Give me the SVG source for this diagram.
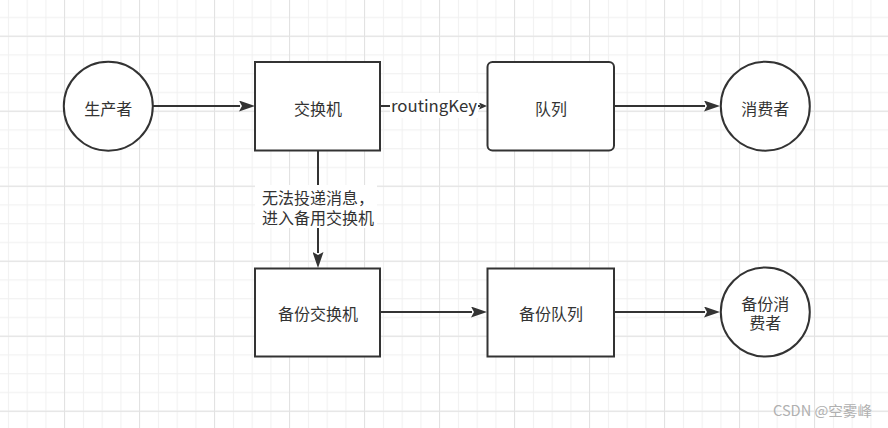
<svg xmlns="http://www.w3.org/2000/svg" width="888" height="428" viewBox="0 0 888 428">
  <defs>
    <pattern id="gridMinor" x="0" y="0" width="18.75" height="18.75" patternUnits="userSpaceOnUse">
      <path d="M8.5 0 V18.75 M0 17.5 H18.75" fill="none" stroke="#f0f0f0" stroke-width="1"/>
    </pattern>
    <pattern id="gridMajor" x="0" y="0" width="75" height="75" patternUnits="userSpaceOnUse">
      <path d="M64.5 0 V75 M0 36.25 H75" fill="none" stroke="#e2e2e2" stroke-width="1"/>
    </pattern>
    <marker id="arrow" viewBox="0 0 16 11" refX="1" refY="5.5" markerWidth="16" markerHeight="11" markerUnits="userSpaceOnUse" orient="auto">
      <path d="M0 0 L16 5.5 L0 11 L3 5.5 Z" fill="#333333"/>
    </marker>
    <marker id="arrowSmall" viewBox="0 0 8 7" refX="1" refY="3.5" markerWidth="8" markerHeight="7" markerUnits="userSpaceOnUse" orient="auto">
      <path d="M0 0 L8 3.5 L0 7 L1.5 3.5 Z" fill="#333333"/>
    </marker>
  </defs>
  <style>
    .shape { fill: #ffffff; stroke: #333333; stroke-width: 2; }
    .edge { fill: none; stroke: #333333; stroke-width: 2; }
    .lbl { font-family: "Microsoft YaHei", "Noto Sans CJK SC", "Noto Sans", sans-serif; font-size: 16px; fill: #333333; text-anchor: middle; }
    .lblbg { fill: #ffffff; }
    .wm { font-family: "Noto Sans CJK SC", "Noto Sans", sans-serif; font-size: 14px; fill: #b0b0b0; }
  </style>

  <rect x="0" y="0" width="888" height="428" fill="#ffffff"/>
  <rect x="0" y="0" width="888" height="428" fill="url(#gridMinor)"/>
  <rect x="0" y="0" width="888" height="428" fill="url(#gridMajor)"/>

  <g id="connectors">
    <line class="edge" x1="153" y1="106" x2="240" y2="106" marker-end="url(#arrow)"/>
    <line class="edge" x1="380" y1="106" x2="480" y2="106" marker-end="url(#arrowSmall)"/>
    <line class="edge" x1="614" y1="106" x2="705" y2="106" marker-end="url(#arrow)"/>
    <line class="edge" x1="318" y1="151" x2="318" y2="253" marker-end="url(#arrow)"/>
    <line class="edge" x1="380" y1="312" x2="472" y2="312" marker-end="url(#arrow)"/>
    <line class="edge" x1="614" y1="312" x2="705" y2="312" marker-end="url(#arrow)"/>
    <g id="label-routingKey">
      <rect class="lblbg" x="390" y="93" width="88" height="25"/>
      <text class="lbl" x="434" y="112" textLength="86" lengthAdjust="spacingAndGlyphs">routingKey</text>
    </g>
    <g id="label-fallback">
      <rect class="lblbg" x="255" y="185" width="122" height="43"/>
      <text class="lbl" x="318" y="203.5">无法投递消息，</text>
      <text class="lbl" x="318" y="223.5">进入备用交换机</text>
    </g>
  </g>

  <g id="producer">
    <circle class="shape" cx="108.3" cy="106.2" r="44.5"/>
    <text class="lbl" x="108.3" y="114.5">生产者</text>
  </g>
  <g id="exchange">
    <rect class="shape" x="255" y="62" width="125" height="88.5"/>
    <text class="lbl" x="318" y="114.5">交换机</text>
  </g>
  <g id="queue">
    <rect class="shape" x="487.5" y="62" width="126.5" height="88.5" rx="5" ry="5"/>
    <text class="lbl" x="551" y="114.5">队列</text>
  </g>
  <g id="consumer">
    <circle class="shape" cx="765.3" cy="106.2" r="44.5"/>
    <text class="lbl" x="765.3" y="114.5">消费者</text>
  </g>
  <g id="backup-exchange">
    <rect class="shape" x="255" y="268.5" width="125" height="88"/>
    <text class="lbl" x="318" y="320">备份交换机</text>
  </g>
  <g id="backup-queue">
    <rect class="shape" x="487.5" y="268.5" width="126.5" height="88"/>
    <text class="lbl" x="551" y="320">备份队列</text>
  </g>
  <g id="backup-consumer">
    <circle class="shape" cx="765.3" cy="312" r="44.5"/>
    <text class="lbl" x="765.3" y="309.5">备份消</text>
    <text class="lbl" x="765.3" y="329">费者</text>
  </g>

  <text class="wm" x="773" y="416" textLength="99" lengthAdjust="spacingAndGlyphs">CSDN @空雾峰</text>
</svg>
